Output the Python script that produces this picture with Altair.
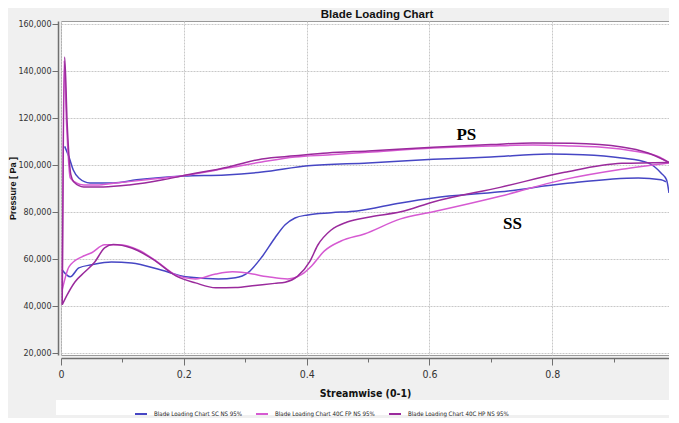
import altair as alt
import pandas as pd

# ---------------- data ----------------
series_names = [
    "Blade Loading Chart SC NS 95%",
    "Blade Loading Chart 40C FP NS 95%",
    "Blade Loading Chart 40C HP NS 95%",
]
series_colors = ["#4646c4", "#d65ad2", "#9a2a9c"]

# SC - pressure side / suction side
sc_ps_x = [0.006, 0.013, 0.02, 0.029, 0.047, 0.085, 0.123, 0.2, 0.268, 0.327, 0.402, 0.5, 0.606, 0.7, 0.795, 0.85, 0.913, 0.956, 0.977, 0.986, 0.99]
sc_ps_y = [108000, 103500, 98000, 94600, 92500, 92500, 93800, 95400, 95900, 97100, 99800, 101000, 102500, 103500, 104800, 104500, 103100, 101000, 96700, 93800, 88200]
sc_ss_x = [0.002, 0.015, 0.029, 0.05, 0.082, 0.115, 0.163, 0.203, 0.256, 0.284, 0.305, 0.327, 0.348, 0.365, 0.381, 0.402, 0.44, 0.482, 0.553, 0.606, 0.715, 0.821, 0.94, 0.977, 0.985]
sc_ss_y = [55500, 52600, 56400, 57700, 58900, 58500, 55500, 52600, 51700, 52200, 54500, 61000, 69000, 74700, 77600, 78900, 79800, 80600, 84000, 86100, 88700, 92200, 94600, 93800, 93000]

# 40C FP
fp_ps_x = [0.002, 0.005, 0.009, 0.015, 0.025, 0.037, 0.058, 0.09, 0.139, 0.198, 0.273, 0.327, 0.381, 0.434, 0.5, 0.606, 0.7, 0.768, 0.832, 0.876, 0.94, 0.975, 0.99]
fp_ps_y = [47000, 144500, 118000, 94600, 92500, 91600, 91600, 92500, 93800, 95500, 98900, 101400, 103500, 104400, 105500, 107300, 108200, 108600, 108200, 107800, 105700, 103400, 101000]
fp_ss_x = [0.002, 0.013, 0.034, 0.05, 0.071, 0.094, 0.126, 0.158, 0.187, 0.219, 0.252, 0.279, 0.3, 0.337, 0.369, 0.392, 0.408, 0.429, 0.456, 0.494, 0.553, 0.606, 0.715, 0.82, 0.913, 0.99]
fp_ss_y = [47000, 56800, 61100, 62800, 66200, 66200, 64000, 58700, 53400, 51700, 53800, 54700, 54300, 52600, 51700, 53600, 57200, 63600, 67800, 70800, 77200, 80200, 86800, 94000, 98300, 101000]

# 40C HP
hp_ps_x = [0.002, 0.006, 0.01, 0.016, 0.021, 0.037, 0.069, 0.111, 0.166, 0.198, 0.273, 0.327, 0.381, 0.434, 0.5, 0.606, 0.7, 0.768, 0.832, 0.913, 0.956, 0.99]
hp_ps_y = [40700, 146000, 118000, 96000, 92900, 90800, 90800, 91600, 93800, 95500, 99300, 102700, 104000, 105200, 106100, 107700, 108800, 109500, 109300, 107800, 105200, 101200]
hp_ss_x = [0.002, 0.01, 0.023, 0.039, 0.055, 0.071, 0.085, 0.115, 0.15, 0.187, 0.219, 0.252, 0.284, 0.316, 0.348, 0.365, 0.385, 0.405, 0.418, 0.44, 0.466, 0.505, 0.553, 0.606, 0.715, 0.82, 0.913, 0.99]
hp_ss_y = [40700, 44900, 50500, 54700, 58900, 64900, 66300, 64800, 60000, 53000, 50000, 47900, 48000, 48900, 49800, 50300, 52800, 59000, 66000, 72500, 75900, 78100, 80200, 84400, 90600, 97000, 100800, 101200]

# annotations
ann_text = ["PS", "SS"]
ann_x = [0.66, 0.735]
ann_y = [112900, 75100]

# axis ticks
y_tick_values = list(range(20000, 160001, 5000))
x_tick_values = [round(i * 0.05, 2) for i in range(20)]

# ---------------- build table ----------------
rows = []
groups = [
    (series_names[0], "PS", sc_ps_x, sc_ps_y),
    (series_names[0], "SS", sc_ss_x, sc_ss_y),
    (series_names[1], "PS", fp_ps_x, fp_ps_y),
    (series_names[1], "SS", fp_ss_x, fp_ss_y),
    (series_names[2], "PS", hp_ps_x, hp_ps_y),
    (series_names[2], "SS", hp_ss_x, hp_ss_y),
]
for name, side, xs, ys in groups:
    for i, (xv, yv) in enumerate(zip(xs, ys)):
        rows.append({"series": name, "side": side, "key": name + side, "i": i, "x": xv, "y": yv})
df = pd.DataFrame(rows)
ann_df = pd.DataFrame({"t": ann_text, "x": ann_x, "y": ann_y})

W, H = 608, 334
narrow = "Liberation Sans Narrow, DejaVu Sans Condensed, sans-serif"

x_scale = alt.Scale(domain=[0, 0.99], nice=False, zero=False)
y_scale = alt.Scale(domain=[19360, 161300], nice=False, zero=False)

x_axis = alt.Axis(
    title="Streamwise (0-1)",
    values=x_tick_values,
    labelExpr="round(datum.value*100) % 20 === 0 ? format(datum.value, '.1~f') : ''",
    labelFlush=False,
    labelOverlap=False,
    tickSize={"condition": {"test": "round(datum.value*100) % 20 === 0", "value": 7}, "value": 4},
    gridOpacity={"condition": {"test": "round(datum.value*100) % 20 === 0", "value": 1}, "value": 0},
    labelFont=narrow, labelFontSize=10.5, labelColor="#333333", labelPadding=4,
    titleFont=narrow, titleFontSize=10.5, titleFontWeight="bold", titleColor="#111111", titlePadding=9,
    offset=3, domainColor="#707070", domainWidth=1.5, tickColor="#707070",
    gridColor="#c8c8c8", gridDash=[2, 1],
)
y_axis = alt.Axis(
    title="Pressure [ Pa ]",
    values=y_tick_values,
    labelExpr="datum.value % 20000 === 0 ? format(datum.value, ',') : ''",
    labelOverlap=False,
    labelFlush=False,
    tickSize={"condition": {"test": "datum.value % 20000 === 0", "value": 6}, "value": 3},
    gridOpacity={"condition": {"test": "datum.value % 20000 === 0", "value": 1}, "value": 0},
    labelFont="DejaVu Sans", labelFontSize=8, labelColor="#333333", labelPadding=1,
    titleFont="Liberation Sans", titleFontSize=9, titleFontWeight="bold", titleColor="#111111", titlePadding=0,
    offset=3, domainColor="#707070", domainWidth=1.5, tickColor="#707070",
    gridColor="#c8c8c8", gridDash=[2, 1],
)

band = alt.Chart(pd.DataFrame({"a": [0]})).mark_rect(color="white").encode(
    x=alt.value(-5), x2=alt.value(W), y=alt.value(379), y2=alt.value(394)
)

lines = alt.Chart(df).mark_line(strokeWidth=1.5, interpolate="monotone", clip=True).encode(
    x=alt.X("x:Q", scale=x_scale, axis=x_axis),
    y=alt.Y("y:Q", scale=y_scale, axis=y_axis),
    color=alt.Color(
        "series:N",
        scale=alt.Scale(domain=series_names, range=series_colors),
        sort=series_names,
        legend=alt.Legend(
            title=None, orient="none", legendX=73, legendY=386, direction="horizontal",
            symbolType="stroke", symbolSize=144, symbolStrokeWidth=2,
            labelFont=narrow, labelFontSize=6.1, labelColor="#222222",
            labelOffset=6, columnPadding=10, padding=0,
        ),
    ),
    detail="key:N",
    order="i:Q",
)

labels = alt.Chart(ann_df).mark_text(
    font="Liberation Serif", fontSize=17, fontWeight="bold", color="#000000"
).encode(x="x:Q", y="y:Q", text="t:N")

chart = alt.layer(band, lines, labels).properties(
    width=W, height=H,
    padding=0,
    background="#f0f0f0",
    title=alt.TitleParams(
        "Blade Loading Chart", font="Liberation Sans", fontSize=11.5, fontWeight="bold",
        color="#111111", anchor="middle", offset=0, dx=12,
    ),
).configure_view(fill="white", stroke="#9a9a9a")

chart.save("out.html", embed_options={"renderer": "svg", "actions": False})
